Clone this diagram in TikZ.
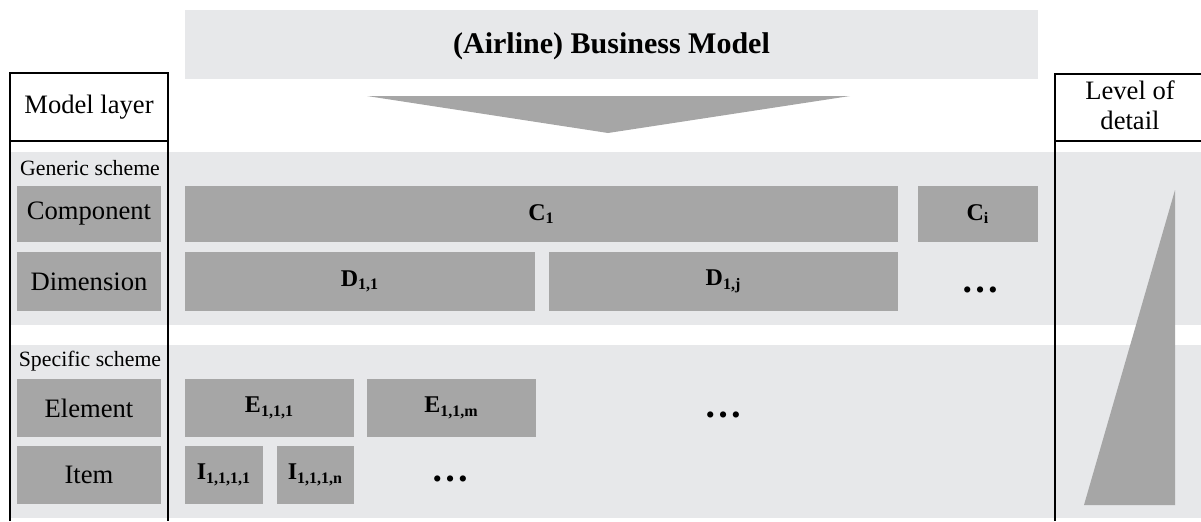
\documentclass[tikz,border=0pt]{standalone}
\usepackage{fontspec}
\setmainfont{Liberation Serif}

\definecolor{bandgray}{HTML}{E7E8EA}
\definecolor{cellgray}{HTML}{A6A6A6}
\newcommand{\lbl}[2]{\textbf{#1}\textsubscript{\textbf{#2}}}

\tikzset{
  band/.style={fill=bandgray},
  cell/.style={fill=cellgray, inner sep=0pt, font=\fontsize{12}{14}\selectfont\bfseries},
  layer/.style={fill=cellgray, inner sep=0pt, minimum width=72pt, font=\fontsize{13.3}{15}\selectfont},
  scheme/.style={inner sep=0pt, font=\fontsize{10.9}{12}\selectfont},
  frame/.style={line width=1pt},
  dots/.style={anchor=base, inner sep=0pt, font=\fontsize{19}{19}\selectfont\bfseries}
}

\begin{document}
\begin{tikzpicture}[x=0.5pt,y=-0.5pt]
\useasboundingbox (0,0) rectangle (1201,521);

% backgrounds
\fill[band] (185,10) rectangle (1038,79);
\fill[band] (10,152) rectangle (1201,325);
\fill[band] (10,345) rectangle (1201,518);

\node[font=\fontsize{15}{18}\selectfont\bfseries] (title) at (611.5,46) {(Airline) Business Model};
\fill[cellgray] (367,96) -- (850,96) -- (608,133) -- cycle;

% level of detail wedge
\fill[cellgray] (1175,190) -- (1175,505) -- (1084,505) -- cycle;

% frames
\draw[frame] (10,521) -- (10,73) -- (168,73) -- (168,521);
\draw[frame] (10,141) -- (168,141);
\draw[frame] (1201,74) -- (1055,74) -- (1055,521);
\draw[frame] (1055,141) -- (1201,141);

\node[font=\fontsize{13.3}{15}\selectfont] (model) at (89,107) {Model layer};
\node[align=center, font=\fontsize{13.3}{15}\selectfont] (detail) at (1130,105) {Level of\\detail};

% left column
\node[scheme] (generic) at (90,168) {Generic scheme};
\node[scheme] (specific) at (90,361) {Specific scheme};
\node[layer, minimum height=28pt] (component) at (89,214) {Component};
\node[layer, minimum height=29.5pt] (dimension) at (89,281.5) {Dimension};
\node[layer, minimum height=29pt] (element) at (89,408) {Element};
\node[layer, minimum height=29pt] (item) at (89,475) {Item};

% generic scheme
\node[cell, minimum width=356.5pt, minimum height=28pt] (c1) at (541.5,214) {\lbl{C}{1}};
\node[cell, minimum width=60pt, minimum height=28pt] (ci) at (978,214) {\lbl{C}{i}};
\node[cell, minimum width=175pt, minimum height=29.5pt] (d11) at (360,281.5) {\lbl{D}{1,1}};
\node[cell, minimum width=174.5pt, minimum height=29.5pt] (d1j) at (723.5,281.5) {\lbl{D}{1,j}};
\node[dots] (ddots) at (980,292) {…};

% specific scheme
\node[cell, minimum width=84.5pt, minimum height=29pt] (e111) at (269.5,408) {\lbl{E}{1,1,1}};
\node[cell, minimum width=84.5pt, minimum height=29pt] (e11m) at (451.5,408) {\lbl{E}{1,1,m}};
\node[dots] (edots) at (723,417) {…};
\node[cell, minimum width=39pt, minimum height=29pt] (i1111) at (224,475) {\lbl{I}{1,1,1,1}};
\node[cell, minimum width=38.5pt, minimum height=29pt] (i111n) at (315.5,475) {\lbl{I}{1,1,1,n}};
\node[dots] (idots) at (450,481) {…};
\end{tikzpicture}
\end{document}
